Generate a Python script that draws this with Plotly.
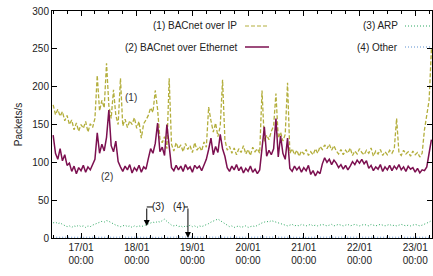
import pandas as pd
import plotly.graph_objects as go

# ---- data (hourly samples) ----
start = "2012-01-16 12:00"
bacnet_ip = [
    176, 163, 170, 161, 167, 155, 162, 150, 156, 143, 152, 141, 150, 145, 154, 140, 151, 146, 158, 215,
    168, 182, 172, 231, 175, 158, 196, 162, 150, 211, 148, 157, 146, 155, 150, 159, 145, 154, 132, 151,
    156, 162, 172, 166, 195, 170, 131, 126, 134, 118, 211, 124, 115, 126, 118, 123, 114, 125, 117, 122,
    113, 126, 116, 121, 115, 127, 120, 173, 155, 140, 152, 134, 148, 209, 130, 116, 121, 112, 119, 110,
    118, 113, 122, 111, 117, 109, 120, 114, 118, 112, 195, 128, 136, 130, 141, 148, 191, 132, 140, 128,
    137, 205, 112, 118, 110, 116, 108, 115, 111, 117, 109, 114, 110, 118, 112, 121, 117, 123, 118, 124,
    116, 122, 115, 111, 117, 110, 116, 112, 119, 109, 115, 111, 118, 113, 110, 116, 112, 119, 108, 115,
    111, 117, 109, 114, 110, 116, 112, 118, 158, 113, 109, 116, 111, 114, 108, 115, 110, 113, 107, 112,
    143, 165, 182, 250,
]
bacnet_eth = [
    136, 112, 104, 118, 102, 110, 96, 99, 88, 95, 85, 93, 89, 96, 87, 94, 90, 97, 104, 139,
    112, 124, 115, 133, 169, 122, 114, 128, 101, 94, 88, 95, 90, 97, 86, 93, 89, 96, 87, 94,
    91, 105, 118, 112, 125, 152, 114, 120, 109, 150, 116, 93, 89, 96, 90, 95, 88, 97, 91, 94,
    87, 96, 92, 95, 89, 97, 104, 117, 132, 110, 121, 113, 137, 118, 108, 93, 88, 95, 90, 97,
    89, 94, 86, 92, 88, 95, 87, 91, 85, 90, 119, 147, 108, 116, 110, 118, 158, 107, 135, 112,
    104, 132, 92, 88, 95, 90, 94, 87, 93, 89, 96, 84, 89, 82, 88, 85, 98, 106, 100, 104,
    97, 103, 99, 93, 97, 91, 96, 90, 95, 101, 97, 103, 99, 104, 98, 102, 92, 96, 89, 94,
    91, 97, 88, 94, 90, 96, 89, 95, 91, 97, 90, 94, 88, 95, 91, 93, 87, 92, 86, 90,
    89, 94, 112, 130,
]
arp = [
    20, 21, 19, 20, 18, 17, 15, 16, 14, 16, 15, 17, 15, 16, 14, 16, 15, 17, 18, 19,
    21, 22, 21, 23, 22, 20, 18, 17, 16, 15, 16, 17, 15, 16, 14, 16, 15, 16, 15, 16,
    17, 19, 20, 21, 20, 22, 21, 23, 25, 22, 19, 17, 16, 17, 15, 16, 14, 16, 15, 17,
    15, 16, 14, 16, 15, 16, 17, 19, 21, 22, 24, 25, 23, 21, 18, 16, 15, 16, 14, 15,
    16, 14, 15, 16, 14, 15, 16, 15, 17, 18, 20, 21, 22, 21, 23, 22, 21, 20, 19, 18,
    17, 16, 17, 18, 16, 17, 16, 18, 17, 16, 17, 18, 16, 17, 16, 17, 18, 17, 16, 17,
    18, 16, 17, 18, 17, 16, 17, 18, 16, 17, 18, 17, 16, 17, 18, 17, 16, 18, 17, 16,
    17, 18, 17, 16, 17, 18, 16, 17, 16, 17, 18, 17, 16, 17, 16, 17, 18, 17, 16, 17,
    18, 19, 21, 23,
]
other_start = "2012-01-16 12:00"
other = [1, 0.8, 1.2, 0.9, 1, 1.1, 0.8, 1, 0.9, 1.2, 1, 0.8, 1.1, 0.9, 1,
         1.2, 0.8, 1, 0.9, 1.1, 1, 0.8, 1.2, 0.9, 1, 1.1, 0.9, 1]
day_ticks = ["2012-01-17", "2012-01-18", "2012-01-19", "2012-01-20",
             "2012-01-21", "2012-01-22", "2012-01-23"]
day_labels = ["17/01<br>00:00", "18/01<br>00:00", "19/01<br>00:00", "20/01<br>00:00",
              "21/01<br>00:00", "22/01<br>00:00", "23/01<br>00:00"]
names = ["(1) BACnet over IP", "(2) BACnet over Ethernet", "(3) ARP", "(4) Other"]

t = pd.date_range(start, periods=len(bacnet_ip), freq="h")
t_other = pd.date_range(other_start, periods=len(other), freq="6h")

C_IP = "#b3ae3c"
C_ETH = "#7c1050"
C_ARP = "#2aa760"
C_OTH = "#5b8fd0"
FONT = "Liberation Sans, Arial, sans-serif"
FS = 10

fig = go.Figure()
fig.add_trace(go.Scatter(x=t, y=bacnet_ip, mode="lines", name=names[0],
                         line=dict(color=C_IP, width=1.3, dash="4px,2px")))
fig.add_trace(go.Scatter(x=t, y=bacnet_eth, mode="lines", name=names[1],
                         line=dict(color=C_ETH, width=1.5)))
fig.add_trace(go.Scatter(x=t, y=arp, mode="lines", name=names[2],
                         line=dict(color=C_ARP, width=1, dash="1px,2px")))
fig.add_trace(go.Scatter(x=t_other, y=other, mode="lines", name=names[3],
                         line=dict(color=C_OTH, width=1, dash="1px,2px")))

# manual gnuplot-style legend (text right-aligned, sample on the right)
def px(X):
    return (X - 52) / 380.0

def py(Y):
    return (238 - Y) / 227.0

legend_items = [
    (names[0], 239, 26, 245, 269, C_IP, "4px,2px", 1),
    (names[1], 239, 47, 245, 269, C_ETH, "solid", 1.5),
    (names[2], 400, 26, 405, 432, C_ARP, "1px,2px", 1),
    (names[3], 400, 47, 405, 432, C_OTH, "1px,2px", 1),
]
for txt, xr, yc, x0, x1, col, dash, w in legend_items:
    fig.add_annotation(x=px(xr), y=py(yc), xref="paper", yref="paper", text=txt,
                       showarrow=False, xanchor="right", yanchor="middle",
                       font=dict(size=FS, color="#222", family=FONT))
    fig.add_shape(type="line", xref="paper", yref="paper", x0=px(x0), x1=px(x1),
                  y0=py(yc), y1=py(yc), line=dict(color=col, width=w, dash=dash))

# series labels
fig.add_annotation(x="2012-01-17 21:30", y=186, text="(1)", showarrow=False,
                   font=dict(size=FS, color="#333", family=FONT))
fig.add_annotation(x="2012-01-17 11:10", y=81, text="(2)", showarrow=False,
                   font=dict(size=FS, color="#333", family=FONT))

# elbow arrows for (3) and (4)
arrows = [
    ("(3)", "2012-01-18 04:20", "2012-01-18 07:00", "2012-01-18 09:00", 41, 16),
    ("(4)", "2012-01-18 22:05", "2012-01-18 20:20", "2012-01-18 18:10", 41, 0),
]
for txt, xa, xh, xt, ycorner, ytip in arrows:
    fig.add_shape(type="line", xref="x", yref="y", x0=xa, x1=xh, y0=ycorner, y1=ycorner,
                  line=dict(color="black", width=1))
    fig.add_annotation(x=xa, y=ytip, ax=xa, ay=ycorner, xref="x", yref="y",
                       axref="x", ayref="y", text="", showarrow=True,
                       arrowhead=2, arrowsize=1.2, arrowwidth=1, arrowcolor="black")
    fig.add_annotation(x=xt, y=ycorner, text=txt, showarrow=False,
                       font=dict(size=FS, color="#222", family=FONT))

fig.update_layout(
    width=433, height=276,
    margin=dict(l=52, r=1, t=11, b=38, autoexpand=False),
    paper_bgcolor="white", plot_bgcolor="white",
    showlegend=False,
    font=dict(family=FONT, size=FS, color="#222"),
)
fig.update_xaxes(
    type="date", automargin=False,
    range=["2012-01-16 11:30", "2012-01-23 07:15"],
    tickmode="array", tickvals=day_ticks, ticktext=day_labels,
    ticks="inside", ticklen=5, tickcolor="black", tickwidth=1,
    showline=True, linecolor="black", linewidth=1, mirror="allticks",
    showgrid=False, zeroline=False,
    minor=dict(ticks="inside", ticklen=3, tickcolor="black", tick0="2012-01-17",
               dtick=6 * 3600 * 1000, showgrid=False),
    tickfont=dict(size=FS, family=FONT, color="#222"),
)
fig.update_yaxes(
    automargin=False,
    range=[0, 300], dtick=50, tick0=0,
    ticks="inside", ticklen=5, tickcolor="black", tickwidth=1,
    showline=True, linecolor="black", linewidth=1, mirror="allticks",
    showgrid=False, zeroline=False,
    title=dict(text="Packets/s", standoff=7, font=dict(size=FS, family=FONT, color="#222")),
    tickfont=dict(size=FS, family=FONT, color="#222"),
)

fig.write_html(
    "out.html",
    config={"displayModeBar": False},
    post_script="document.body.style.margin='0px';document.body.style.overflow='hidden';",
)
